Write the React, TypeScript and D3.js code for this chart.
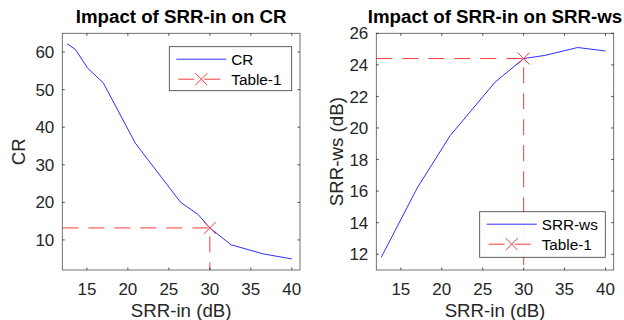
import React from "react";
import * as d3 from "d3";

// SRR-in sweep and the resulting compression ratio
const crX = [12.6, 13.6, 15.1, 17.0, 20.9, 26.4, 28.6, 30.0, 32.6, 36.5, 40.0];
const crY = [62.2, 60.7, 55.7, 51.8, 35.8, 20.1, 16.7, 13.2, 8.7, 6.3, 4.95];

// SRR-in sweep and the resulting SRR-ws
const wsX = [12.6, 17.0, 21.0, 26.5, 30.0, 32.6, 36.6, 40.0];
const wsY = [11.8, 16.2, 19.5, 22.9, 24.4, 24.6, 25.1, 24.88];

// Table-1 operating points
const table1X = 30;
const table1CR = 13.2;
const table1WS = 24.4;

const xTicks = [15, 20, 25, 30, 35, 40];
const crTicks = [10, 20, 30, 40, 50, 60];
const wsTicks = [12, 14, 16, 18, 20, 22, 24, 26];

const FONT = "'Liberation Sans', Arial, Helvetica, sans-serif";
const AXIS = "#262626";
const BLUE = "#2f2fff";
const RED = "#ff3b3b";

const TICK_FS = 17;
const LABEL_FS = 18.7;
const LEGEND_FS = 15.3;

type PanelProps = {
  id: string;
  left: number;
  right: number;
  top: number;
  bottom: number;
  xDomain: [number, number];
  yDomain: [number, number];
  yTicks: number[];
  xs: number[];
  ys: number[];
  refY: number;
  title: string;
  yLabel: string;
  yLabelX: number;
  seriesName: string;
  legend: { x: number; y: number; w: number; h: number };
};

function Cross({ cx, cy, r }: { cx: number; cy: number; r: number }) {
  return (
    <g stroke={RED} strokeWidth={1}>
      <line x1={cx - r} y1={cy - r} x2={cx + r} y2={cy + r} />
      <line x1={cx - r} y1={cy + r} x2={cx + r} y2={cy - r} />
    </g>
  );
}

function Panel(p: PanelProps) {
  const x = d3.scaleLinear().domain(p.xDomain).range([p.left, p.right]);
  const y = d3.scaleLinear().domain(p.yDomain).range([p.bottom, p.top]);
  const pts: [number, number][] = p.xs.map((v, i) => [v, p.ys[i]]);
  const line = d3
    .line<[number, number]>()
    .x((d) => x(d[0]))
    .y((d) => y(d[1]));
  const refPath = line([
    [p.xDomain[0], p.refY],
    [table1X, p.refY],
    [table1X, p.yDomain[0]],
  ]);
  const tl = 2.5;
  const cx = (p.left + p.right) / 2;
  const cy = (p.top + p.bottom) / 2;
  const lg = p.legend;
  return (
    <g>
      <defs>
        <clipPath id={"clip-" + p.id}>
          <rect x={p.left} y={p.top} width={p.right - p.left} height={p.bottom - p.top} />
        </clipPath>
      </defs>
      <g clipPath={`url(#clip-${p.id})`}>
        <path d={line(pts) || ""} fill="none" stroke={BLUE} strokeWidth={1} />
        <path d={refPath || ""} fill="none" stroke={RED} strokeWidth={1} strokeDasharray="16 10" />
      </g>
      <Cross cx={x(table1X)} cy={y(p.refY)} r={6} />
      {/* frame */}
      <rect
        x={p.left}
        y={p.top}
        width={p.right - p.left}
        height={p.bottom - p.top}
        fill="none"
        stroke={AXIS}
        strokeWidth={0.8}
        opacity={0.8}
      />
      {/* x ticks */}
      {xTicks.map((t) => (
        <g key={"x" + t}>
          <line x1={x(t)} x2={x(t)} y1={p.bottom} y2={p.bottom - tl} stroke={AXIS} strokeWidth={0.8} />
          <line x1={x(t)} x2={x(t)} y1={p.top} y2={p.top + tl} stroke={AXIS} strokeWidth={0.8} />
          <text x={x(t)} y={p.bottom + 25} textAnchor="middle" fontSize={TICK_FS} fill={AXIS} fontFamily={FONT}>
            {t}
          </text>
        </g>
      ))}
      {/* y ticks */}
      {p.yTicks.map((t) => (
        <g key={"y" + t}>
          <line x1={p.left} x2={p.left + tl} y1={y(t)} y2={y(t)} stroke={AXIS} strokeWidth={0.8} />
          <line x1={p.right} x2={p.right - tl} y1={y(t)} y2={y(t)} stroke={AXIS} strokeWidth={0.8} />
          <text
            x={p.left - 8}
            y={y(t)}
            dy="0.36em"
            textAnchor="end"
            fontSize={TICK_FS}
            fill={AXIS}
            fontFamily={FONT}
          >
            {t}
          </text>
        </g>
      ))}
      <text x={cx} y={23} textAnchor="middle" fontSize={LABEL_FS} fontWeight="bold" fill="#000" fontFamily={FONT}>
        {p.title}
      </text>
      <text x={cx} y={317} textAnchor="middle" fontSize={LABEL_FS} fill={AXIS} fontFamily={FONT}>
        SRR-in (dB)
      </text>
      <text
        transform={`translate(${p.yLabelX},${cy}) rotate(-90)`}
        textAnchor="middle"
        dy="0.36em"
        fontSize={LABEL_FS}
        fill={AXIS}
        fontFamily={FONT}
      >
        {p.yLabel}
      </text>
      {/* legend */}
      <g>
        <rect x={lg.x} y={lg.y} width={lg.w} height={lg.h} fill="#fff" stroke={AXIS} strokeWidth={0.8} opacity={0.9} />
        <line x1={lg.x + 7} x2={lg.x + 57} y1={lg.y + 12.5} y2={lg.y + 12.5} stroke={BLUE} strokeWidth={1} />
        <text x={lg.x + 62} y={lg.y + 12.5} dy="0.36em" fontSize={LEGEND_FS} fill="#000" fontFamily={FONT}>
          {p.seriesName}
        </text>
        <line
          x1={lg.x + 7}
          x2={lg.x + 57}
          y1={lg.y + 32.5}
          y2={lg.y + 32.5}
          stroke={RED}
          strokeWidth={1}
          strokeDasharray="16 10"
          strokeDashoffset={-2}
        />
        <Cross cx={lg.x + 32} cy={lg.y + 32.5} r={6} />
        <text x={lg.x + 62} y={lg.y + 32.5} dy="0.36em" fontSize={LEGEND_FS} fill="#000" fontFamily={FONT}>
          Table-1
        </text>
      </g>
    </g>
  );
}

export default function App() {
  return (
    <svg width={624} height={320} style={{ position: "absolute", left: 0, top: 0 }}>
      <rect width={624} height={320} fill="#fff" />
      <Panel
        id="cr"
        left={62.3}
        right={300}
        top={33.3}
        bottom={270}
        xDomain={[12, 41]}
        yDomain={[2, 65]}
        yTicks={crTicks}
        xs={crX}
        ys={crY}
        refY={table1CR}
        title="Impact of SRR-in on CR"
        yLabel="CR"
        yLabelX={18}
        seriesName="CR"
        legend={{ x: 169.3, y: 46.7, w: 122.4, h: 44 }}
      />
      <Panel
        id="ws"
        left={376.3}
        right={613.7}
        top={33.3}
        bottom={270}
        xDomain={[12, 41]}
        yDomain={[11, 26]}
        yTicks={wsTicks}
        xs={wsX}
        ys={wsY}
        refY={table1WS}
        title="Impact of SRR-in on SRR-ws"
        yLabel="SRR-ws (dB)"
        yLabelX={336}
        seriesName="SRR-ws"
        legend={{ x: 479.7, y: 211.7, w: 125.6, h: 45.6 }}
      />
    </svg>
  );
}
